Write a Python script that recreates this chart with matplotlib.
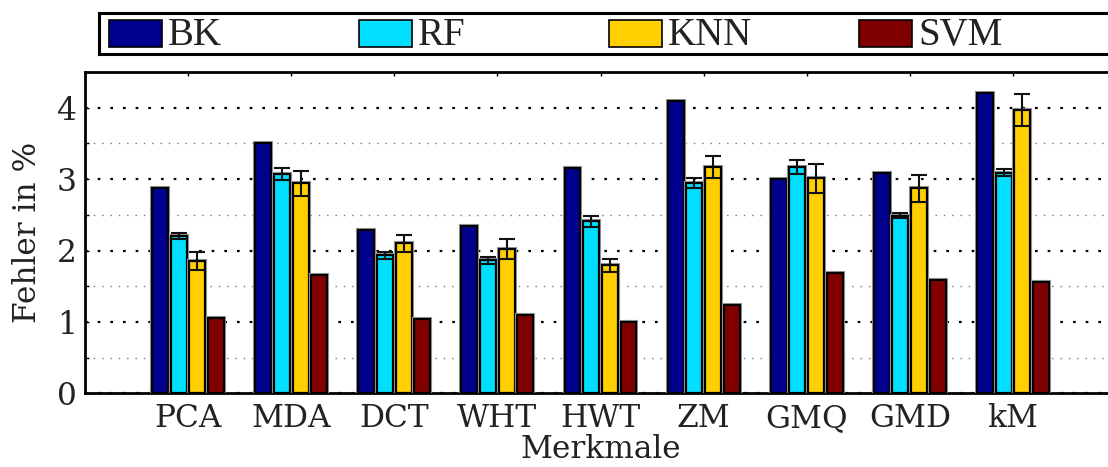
import numpy as np
import matplotlib
matplotlib.use("Agg")
import matplotlib.pyplot as plt
from matplotlib.patches import Rectangle
import matplotlib.patheffects as pe

# Feature sets and classifiers
features = ["PCA", "MDA", "DCT", "WHT", "HWT", "ZM", "GMQ", "GMD", "kM"]
classifiers = ["BK", "RF", "KNN", "SVM"]

# Error rates in percent
err_bk = [2.88, 3.50, 2.29, 2.34, 3.15, 4.09, 3.00, 3.08, 4.21]
err_rf = [2.20, 3.07, 1.93, 1.86, 2.41, 2.95, 3.17, 2.49, 3.09]
err_knn = [1.85, 2.94, 2.10, 2.02, 1.79, 3.17, 3.01, 2.87, 3.97]
err_svm = [1.06, 1.65, 1.04, 1.09, 1.00, 1.24, 1.68, 1.59, 1.56]

# Standard deviations (only the randomised classifiers)
std_rf = [0.04, 0.08, 0.05, 0.05, 0.075, 0.07, 0.10, 0.04, 0.05]
std_knn = [0.13, 0.17, 0.12, 0.14, 0.09, 0.16, 0.20, 0.19, 0.22]

colors = ["#00008F", "#00DFFF", "#FFCF00", "#800000"]

plt.rcParams["font.family"] = ["DejaVu Serif"]

W, H = 1108, 467
fig = plt.figure(figsize=(W / 100, H / 100), dpi=100)
ax = fig.add_axes([85 / W, (H - 393.3) / H, 1031 / W, 321.3 / H])

x = np.arange(1, len(features) + 1)
pitch = 0.181
width = 0.155
series = [err_bk, err_rf, err_knn, err_svm]
stds = [None, std_rf, std_knn, None]
halo = [pe.Stroke(linewidth=3.0, foreground="#a0a0a0"), pe.Normal()]

for i, (vals, sd, col) in enumerate(zip(series, stds, colors)):
    pos = x + (i - 1.5) * pitch
    bars = ax.bar(pos, vals, width=width, color=col, edgecolor="black",
                  linewidth=1.6, zorder=3)
    for b in bars:
        b.set_path_effects(halo)
    if sd is not None:
        ax.errorbar(pos, vals, yerr=sd, fmt="none", ecolor="#111111",
                    elinewidth=1.5, capsize=5.5, capthick=1.5, zorder=4)

ax.set_xlim(0, 10)
ax.set_ylim(0, 4.5)
ax.set_xticks(x)
ax.set_xticklabels(features, fontsize=22.5, color="#222222")
ax.set_yticks([0, 1, 2, 3, 4])
ax.set_yticklabels(["0", "1", "2", "3", "4"], fontsize=22.5, color="#222222")
ax.set_yticks(np.arange(0.5, 4.5, 1.0), minor=True)

ax.grid(axis="y", which="major", color="black", linestyle=(0, (1.2, 4.5)),
        linewidth=1.6, zorder=0)
ax.grid(axis="y", which="minor", color="#777777", linestyle=(0, (1, 5)),
        linewidth=1.0, zorder=0)
ax.set_axisbelow(True)

ax.tick_params(axis="both", which="both", direction="in", length=3,
               top=True, right=False, width=1)
ax.tick_params(axis="x", pad=7)
ax.tick_params(axis="y", pad=6)
for side in ["left", "bottom", "top"]:
    ax.spines[side].set_linewidth(2.0)
ax.spines["right"].set_visible(False)

ax.set_xlabel("Merkmale", fontsize=22.5, color="#222222", labelpad=0)
ax.set_ylabel("Fehler in %", fontsize=22.5, color="#222222", labelpad=10)

# Legend box across the top
lax = fig.add_axes([98.5 / W, (H - 54) / H, 1020 / W, 41 / H])
lax.set_xlim(0, 1020)
lax.set_ylim(0, 41)
lax.set_xticks([])
lax.set_yticks([])
for side in ["left", "bottom", "top", "right"]:
    lax.spines[side].set_linewidth(2.2)
for i, (name, col) in enumerate(zip(classifiers, colors)):
    x0 = 10.5 + i * 250
    lax.add_patch(Rectangle((x0, 7.5), 53, 27, facecolor=col,
                            edgecolor="black", linewidth=1.2))
    lax.text(x0 + 59, 18.5, name, fontsize=28, family="Liberation Serif",
             color="#222222", va="center", ha="left")

fig.savefig("out.png", dpi=100)
